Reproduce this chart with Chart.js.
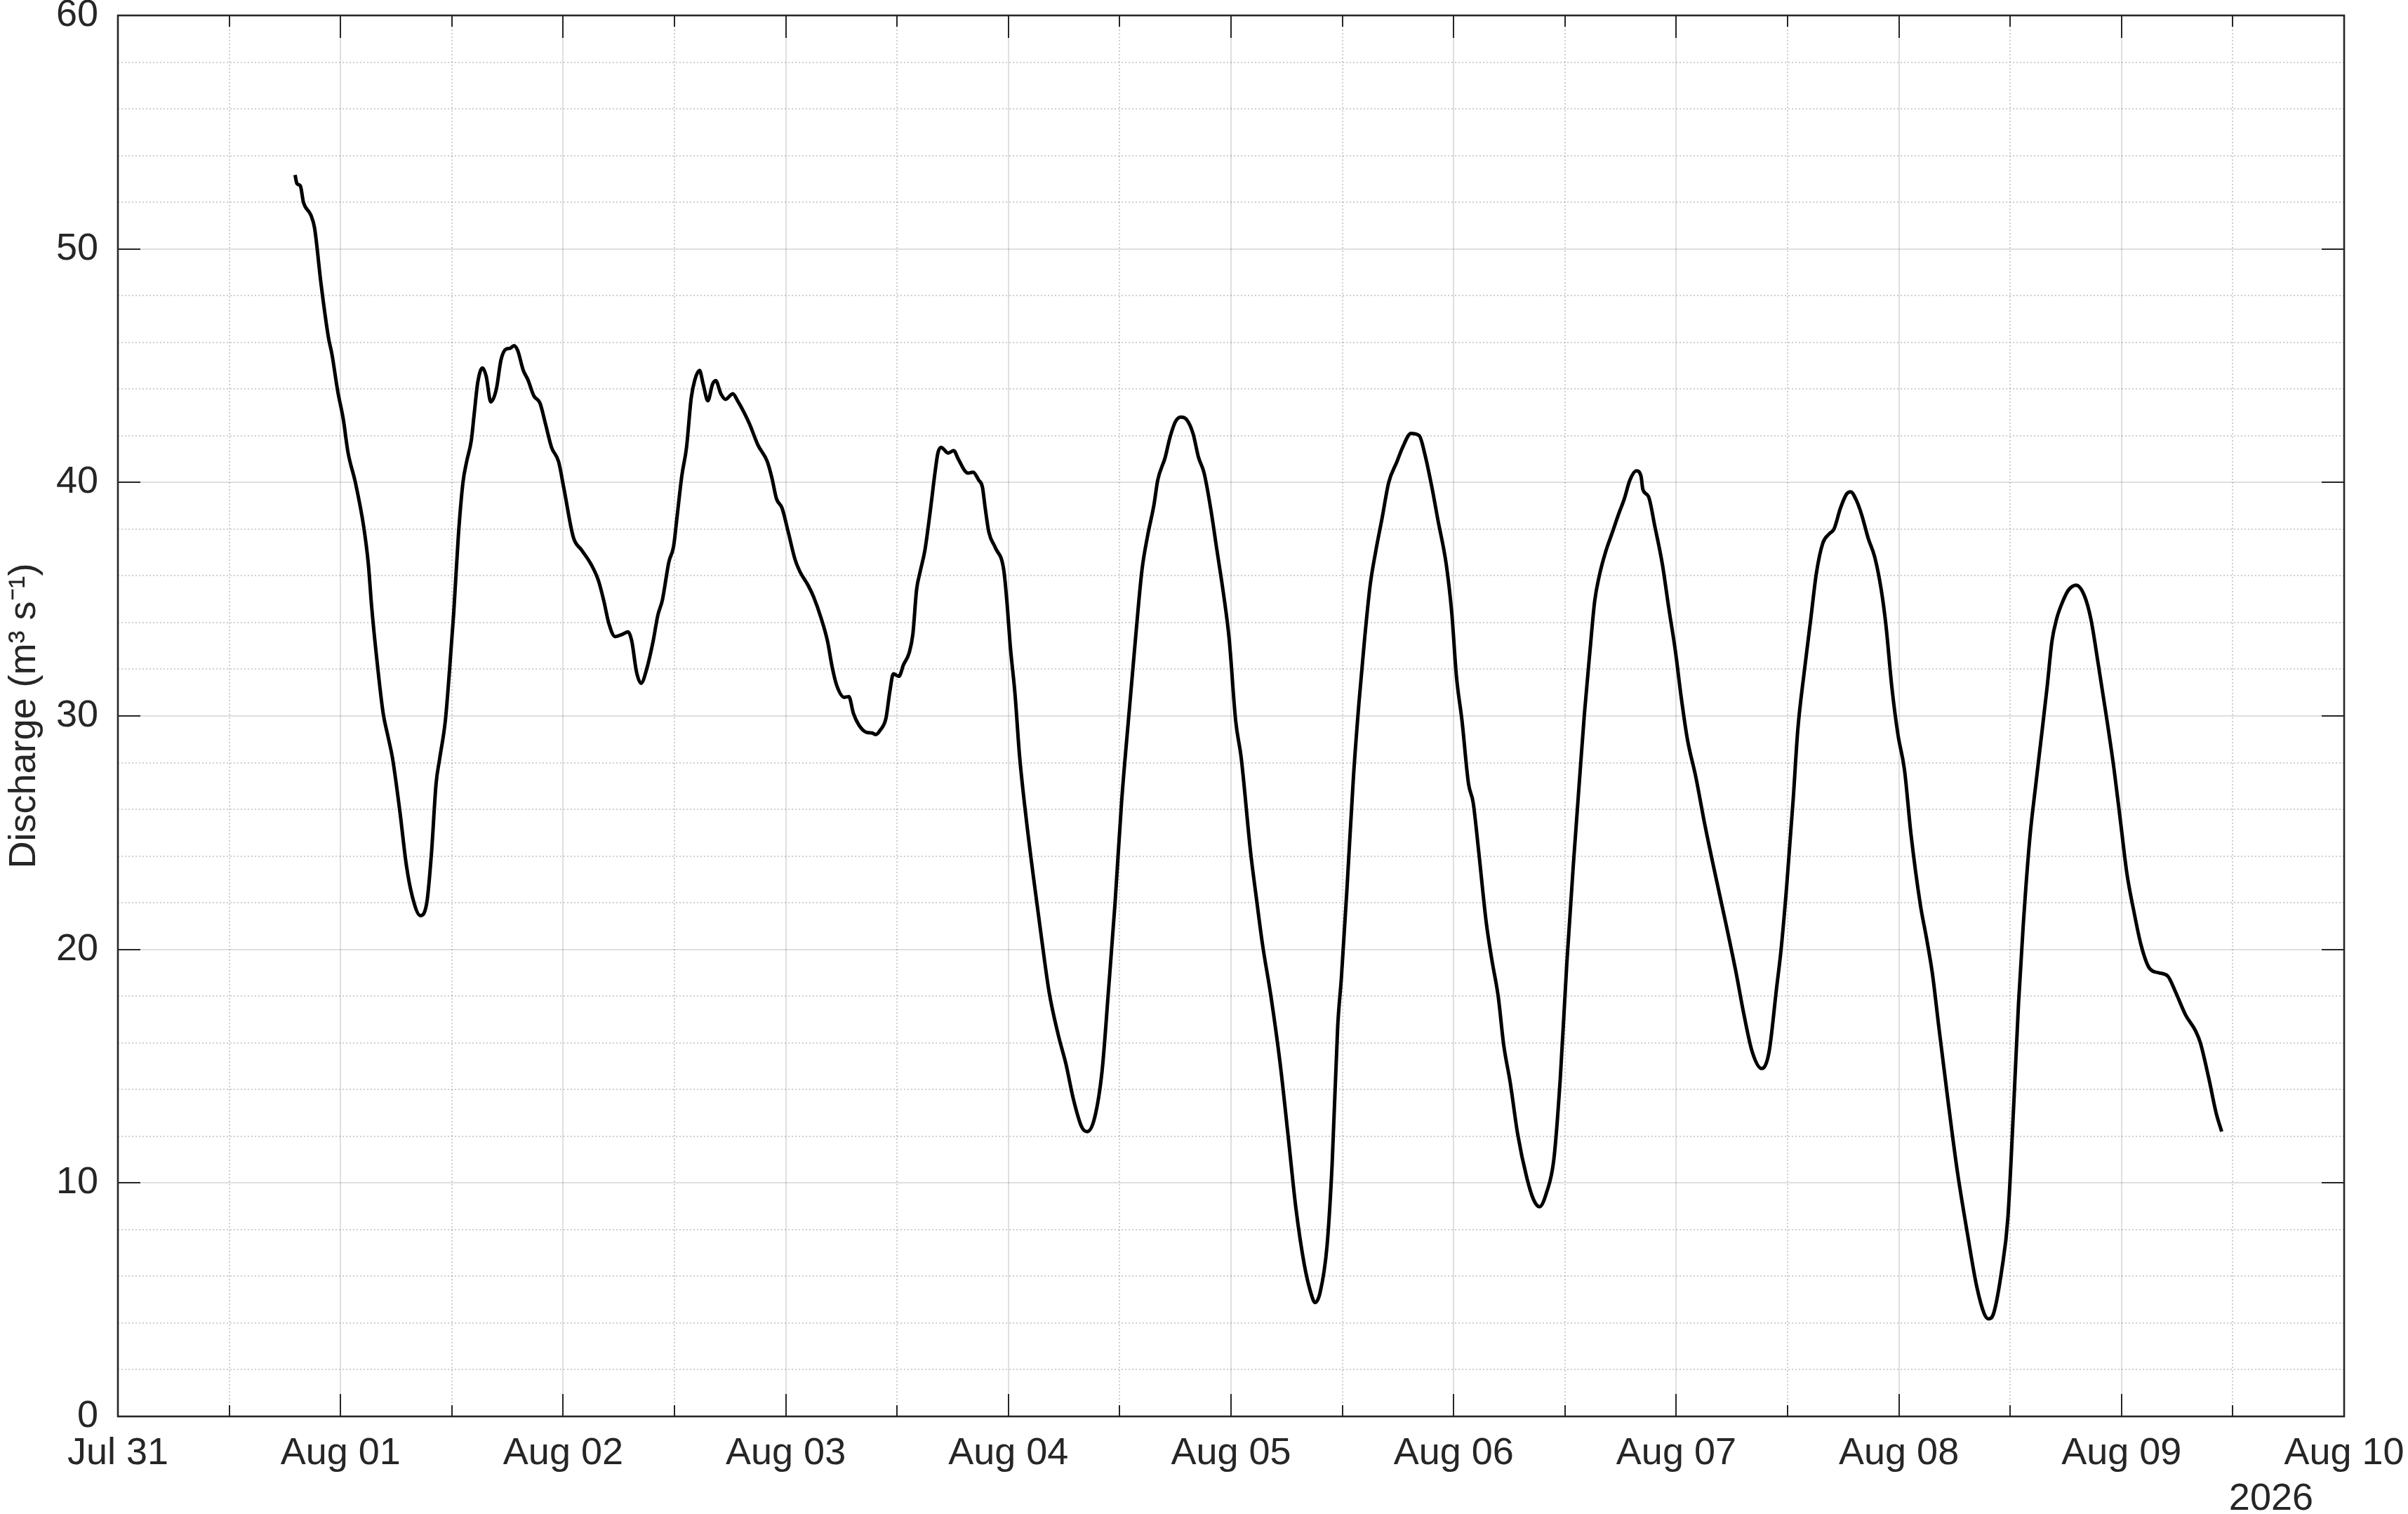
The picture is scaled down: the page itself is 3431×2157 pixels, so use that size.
<!DOCTYPE html>
<html>
<head>
<meta charset="utf-8">
<script src="https://cdn.jsdelivr.net/npm/chart.js@4.4.1/dist/chart.umd.min.js"></script>
<style>
  html, body { margin: 0; padding: 0; background: #ffffff; }
  #wrap { width: 3431px; height: 2157px; }
</style>
</head>
<body>
<div id="wrap"><canvas id="c" width="3431" height="2157"></canvas></div>
<script>
// ---- data (hours since Jul 31 00:00, discharge m3/s) ----
const hours = [
  19.1, 19.3, 19.67, 20.0, 20.8, 21.2, 21.9, 22.7, 23.07, 23.7,
  24.3, 24.8, 25.6, 26.5, 27.0, 27.35, 28.0, 28.6, 29.1, 29.6,
  30.4, 31.1, 31.75, 32.6, 33.3, 33.8, 34.3, 34.7, 35.3, 35.7,
  36.2, 36.7, 37.2, 37.6, 38.1, 38.4, 38.8, 39.3, 39.7, 40.2,
  40.8, 41.3, 41.8, 42.3, 42.7, 43.1, 43.7, 44.2, 44.85, 45.5,
  46.1, 46.75, 47.5, 48.1, 49.1, 50.0, 51.0, 51.8, 52.4, 52.9,
  53.6, 54.4, 55.0, 55.4, 55.9, 56.4, 57.0, 57.7, 58.2, 58.7,
  59.4, 59.9, 60.3, 60.8, 61.3, 61.8, 62.2, 62.7, 63.1, 63.6,
  64.1, 64.45, 65.0, 65.5, 66.3, 66.8, 67.5, 68.1, 69.0, 70.0,
  70.5, 71.0, 71.6, 72.25, 73.0, 73.5, 74.4, 75.0, 75.8, 76.5,
  77.0, 77.5, 78.3, 78.8, 79.3, 79.9, 80.7, 81.3, 81.7, 82.2,
  82.8, 83.2, 83.6, 84.2, 84.7, 85.3, 85.7, 86.1, 86.5, 87.0,
  87.6, 88.1, 88.4, 88.75, 89.5, 90.1, 90.6, 91.3, 91.65, 92.2,
  92.8, 93.2, 93.5, 93.9, 94.6, 95.5, 95.9, 96.2, 96.7, 97.2,
  97.95, 98.7, 99.6, 100.4, 101.4, 102.2, 103.0, 103.9, 104.5, 105.3,
  106.1, 106.8, 107.5, 108.2, 109.0, 109.7, 110.4, 111.0, 111.7, 112.1,
  112.9, 113.4, 114.0, 114.6, 115.2, 115.9, 116.5, 117.1, 117.8, 118.5,
  119.2, 119.8, 120.5, 121.1, 122.1, 122.7, 123.4, 124.3, 125.3, 126.2,
  127.0, 127.9, 128.6, 129.05, 129.6, 130.35, 130.9, 131.5, 131.9, 132.5,
  133.2, 133.8, 134.4, 135.0, 135.6, 136.3, 137.0, 137.9, 138.5, 139.4,
  140.3, 140.9, 141.7, 142.3, 143.2, 143.8, 144.3, 144.9, 145.6, 146.1,
  146.7, 147.5, 148.1, 148.8, 149.4, 150.1, 150.9, 151.9, 152.6, 153.25,
  154.0, 154.8, 155.5, 156.2, 156.9, 157.65, 158.1, 158.7, 159.2, 159.7,
  160.4, 161.1, 161.8, 162.4, 163.0, 163.7, 164.2, 164.4, 165.0, 165.7,
  166.5, 167.2, 167.9, 168.5, 169.2, 170.1, 171.1, 172.1, 173.3, 174.4,
  175.3, 176.2, 177.2, 178.0, 178.8, 179.3, 179.9, 180.6, 181.1, 181.8,
  182.5, 183.1, 183.8, 184.5, 185.0, 185.7, 186.35, 186.8, 187.4, 188.0,
  188.7, 189.4, 190.1, 190.6, 191.25, 191.9, 192.6, 193.3, 194.3, 194.97,
  195.6, 196.3, 197.3, 198.3, 199.4, 200.4, 201.2, 201.65, 202.2, 203.1,
  203.75, 204.4, 204.9, 205.4, 206.1, 206.8, 207.3, 207.97, 208.5, 209.0,
  209.66, 210.3, 211.1, 212.0, 212.7, 213.5, 214.4, 215.2, 215.9, 216.6,
  217.3, 218.1, 219.0, 220.0, 221.0, 221.8, 222.9, 224.0, 224.5, 225.4,
  226.2, 226.8
];
const discharge = [
  53.17, 52.8, 52.7, 52.0, 51.45, 50.9, 48.5, 46.2, 45.5, 43.9,
  42.7, 41.3, 40.0, 38.1, 36.5, 34.7, 32.1, 30.1, 29.15, 28.2,
  25.9, 23.6, 22.25, 21.45, 22.0, 24.1, 27.1, 28.2, 29.8, 31.7,
  34.4, 37.7, 40.0, 40.9, 41.8, 42.9, 44.3, 44.9, 44.55, 43.45,
  44.0, 45.25, 45.7, 45.75, 45.86, 45.65, 44.8, 44.4, 43.7, 43.4,
  42.5, 41.5, 40.9, 39.7, 37.65, 37.1, 36.5, 35.8, 34.9, 34.0,
  33.4, 33.5, 33.6, 33.2, 31.9, 31.4, 32.0, 33.2, 34.3, 34.97,
  36.6, 37.25, 38.6, 40.3, 41.5, 43.6, 44.4, 44.8, 44.2, 43.5,
  44.2, 44.36, 43.8, 43.56, 43.8, 43.5, 43.0, 42.5, 41.6, 40.9,
  40.2, 39.3, 38.9, 37.9, 36.7, 36.2, 35.6, 35.1, 34.2, 33.2,
  32.1, 31.3, 30.8, 30.83, 30.1, 29.6, 29.3, 29.27, 29.2, 29.4,
  29.9, 31.0, 31.8, 31.7, 32.2, 32.7, 33.5, 35.4, 36.2, 37.1,
  38.85, 40.46, 41.26, 41.5, 41.26, 41.36, 41.0, 40.5, 40.4, 40.44,
  40.1, 39.8, 38.9, 37.86, 37.2, 36.25, 34.6, 33.0, 31.0, 28.3,
  25.5, 23.1, 20.4, 18.15, 16.3, 15.1, 13.6, 12.4, 12.2, 12.8,
  14.8, 18.3, 22.0, 26.3, 30.1, 33.3, 36.25, 37.7, 39.06, 40.1,
  41.07, 41.9, 42.6, 42.8, 42.7, 42.1, 41.07, 40.4, 38.9, 37.05,
  35.2, 33.3, 29.8, 28.2, 24.2, 22.3, 20.2, 18.0, 15.1, 11.85,
  8.9, 6.5, 5.3, 4.88, 5.3, 7.3, 10.8, 16.7, 18.8, 22.6,
  27.4, 30.6, 33.3, 35.6, 37.05, 38.5, 40.0, 40.9, 41.5, 42.1,
  42.0, 41.2, 39.7, 38.4, 36.5, 34.4, 31.7, 29.8, 27.1, 26.3,
  24.2, 21.2, 19.6, 18.0, 15.9, 14.3, 12.1, 10.2, 9.3, 8.98,
  9.57, 11.0, 14.5, 19.4, 23.6, 27.7, 30.1, 32.8, 34.9, 36.0,
  37.05, 37.85, 38.66, 39.3, 40.1, 40.5, 40.27, 39.7, 39.4, 38.1,
  36.5, 34.6, 32.8, 30.9, 29.0, 27.4, 25.3, 23.4, 21.2, 19.1,
  17.2, 15.6, 14.9, 15.6, 18.3, 20.0, 22.7, 26.4, 29.4, 31.9,
  34.15, 36.1, 37.4, 37.8, 38.0, 38.9, 39.5, 39.6, 39.25, 38.6,
  37.6, 36.8, 35.4, 33.9, 31.2, 29.2, 27.7, 24.95, 21.95, 20.5,
  19.0, 16.7, 13.5, 10.5, 7.8, 5.55, 4.4, 4.18, 4.4, 6.3,
  8.5, 13.5, 17.7, 21.0, 24.7, 27.2, 28.9, 31.2, 33.2, 34.15,
  34.9, 35.4, 35.6, 35.15, 34.15, 32.2, 29.9, 27.7, 25.45, 23.2,
  21.7, 20.2, 19.2, 19.0, 18.85, 18.2, 17.2, 16.5, 16.0, 14.5,
  13.0, 12.2
];

// ---- axis ticks ----
const xTickHours = [0, 24, 48, 72, 96, 120, 144, 168, 192, 216, 240];
const xTickLabels = ['Jul 31', 'Aug 01', 'Aug 02', 'Aug 03', 'Aug 04', 'Aug 05',
                     'Aug 06', 'Aug 07', 'Aug 08', 'Aug 09', 'Aug 10'];
const yTicks = [0, 10, 20, 30, 40, 50, 60];
const yearLabel = '2026';
const yTitle = 'Discharge (m\u00B3 s\u207B\u00B9)';

const FONT = '"Liberation Sans", Arial, Helvetica, sans-serif';
const TEXT = '#262626';

const matlabAxes = {
  id: 'matlabAxes',
  beforeDatasetsDraw(chart) {
    const { ctx, chartArea: a, scales: { x, y } } = chart;
    const xMin = xTickHours[0], xMax = xTickHours[xTickHours.length - 1];
    const xStep = xTickHours[1] - xTickHours[0];
    const yStep = yTicks[1] - yTicks[0];
    ctx.save();
    ctx.beginPath(); ctx.rect(a.left, a.top, a.right - a.left, a.bottom - a.top); ctx.clip();
    // minor grid (dotted)
    ctx.lineWidth = 2;
    ctx.strokeStyle = 'rgba(38,38,38,0.22)';
    ctx.setLineDash([2, 3]);
    for (let h = xMin + xStep / 2; h < xMax; h += xStep) {
      const px = Math.round(x.getPixelForValue(h));
      ctx.beginPath(); ctx.moveTo(px, a.top); ctx.lineTo(px, a.bottom); ctx.stroke();
    }
    for (let v = yTicks[0]; v < yTicks[yTicks.length - 1]; v += yStep / 5) {
      if (Math.abs(v / yStep - Math.round(v / yStep)) < 1e-6) continue;
      const py = Math.round(y.getPixelForValue(v));
      ctx.beginPath(); ctx.moveTo(a.left, py); ctx.lineTo(a.right, py); ctx.stroke();
    }
    // major grid (solid)
    ctx.setLineDash([]);
    ctx.strokeStyle = 'rgba(38,38,38,0.15)';
    xTickHours.forEach(h => {
      const px = Math.round(x.getPixelForValue(h));
      ctx.beginPath(); ctx.moveTo(px, a.top); ctx.lineTo(px, a.bottom); ctx.stroke();
    });
    yTicks.forEach(v => {
      const py = Math.round(y.getPixelForValue(v));
      ctx.beginPath(); ctx.moveTo(a.left, py); ctx.lineTo(a.right, py); ctx.stroke();
    });
    ctx.restore();
  },
  afterDatasetsDraw(chart) {
    const { ctx, chartArea: a, scales: { x, y } } = chart;
    const xStep = xTickHours[1] - xTickHours[0];
    const xMax = xTickHours[xTickHours.length - 1];
    ctx.save();
    ctx.strokeStyle = TEXT;
    ctx.lineWidth = 2;
    const major = 32, minor = 16;
    for (let h = xTickHours[0]; h <= xMax + 1e-6; h += xStep / 2) {
      const isMajor = Math.abs(h / xStep - Math.round(h / xStep)) < 1e-6;
      const len = isMajor ? major : minor;
      const px = Math.round(x.getPixelForValue(h));
      ctx.beginPath();
      ctx.moveTo(px, a.bottom); ctx.lineTo(px, a.bottom - len);
      ctx.moveTo(px, a.top); ctx.lineTo(px, a.top + len);
      ctx.stroke();
    }
    yTicks.forEach(v => {
      const py = Math.round(y.getPixelForValue(v));
      ctx.beginPath();
      ctx.moveTo(a.left, py); ctx.lineTo(a.left + major, py);
      ctx.moveTo(a.right, py); ctx.lineTo(a.right - major, py);
      ctx.stroke();
    });
    ctx.lineWidth = 2.6;
    ctx.strokeRect(a.left, a.top, a.right - a.left, a.bottom - a.top);
    ctx.restore();
  },
  afterDraw(chart) {
    const { ctx, chartArea: a } = chart;
    ctx.save();
    ctx.fillStyle = TEXT;
    ctx.font = '54px ' + FONT;
    ctx.textAlign = 'right';
    ctx.textBaseline = 'alphabetic';
    ctx.fillText(yearLabel, a.right - 44, a.bottom + 133);
    ctx.restore();
  }
};

const points = hours.map((h, i) => ({ x: h, y: discharge[i] }));

new Chart(document.getElementById('c'), {
  type: 'line',
  data: {
    datasets: [{
      data: points,
      borderColor: '#000000',
      borderWidth: 5,
      pointRadius: 0,
      fill: false,
      cubicInterpolationMode: 'monotone'
    }]
  },
  options: {
    responsive: false,
    devicePixelRatio: 1,
    animation: false,
    layout: { padding: { top: 22, right: 91, left: 0, bottom: 0 } },
    plugins: { legend: { display: false }, tooltip: { enabled: false } },
    scales: {
      x: {
        type: 'linear',
        min: xTickHours[0],
        max: xTickHours[xTickHours.length - 1],
        afterBuildTicks(scale) { scale.ticks = xTickHours.map(v => ({ value: v })); },
        afterFit(scale) {
          scale.height = 139;
          scale.paddingLeft = 0; scale.paddingRight = 0;
          scale.paddingTop = 0; scale.paddingBottom = 0;
        },
        grid: { display: false },
        border: { display: false },
        ticks: {
          autoSkip: false,
          maxRotation: 0,
          padding: 13,
          color: TEXT,
          font: { family: FONT, size: 54 },
          callback: (v) => { const i = xTickHours.indexOf(v); return i >= 0 ? xTickLabels[i] : ''; }
        }
      },
      y: {
        min: yTicks[0],
        max: yTicks[yTicks.length - 1],
        afterBuildTicks(scale) { scale.ticks = yTicks.map(v => ({ value: v })); },
        afterFit(scale) {
          scale.width = 168;
          scale.paddingLeft = 0; scale.paddingRight = 0;
          scale.paddingTop = 0; scale.paddingBottom = 0;
        },
        grid: { display: false },
        border: { display: false },
        ticks: {
          padding: 20,
          color: TEXT,
          font: { family: FONT, size: 54 }
        },
        title: {
          display: true,
          text: yTitle,
          color: TEXT,
          font: { family: FONT, size: 54 },
          padding: { top: 3, bottom: 0 }
        }
      }
    }
  },
  plugins: [matlabAxes]
});
</script>
</body>
</html>
